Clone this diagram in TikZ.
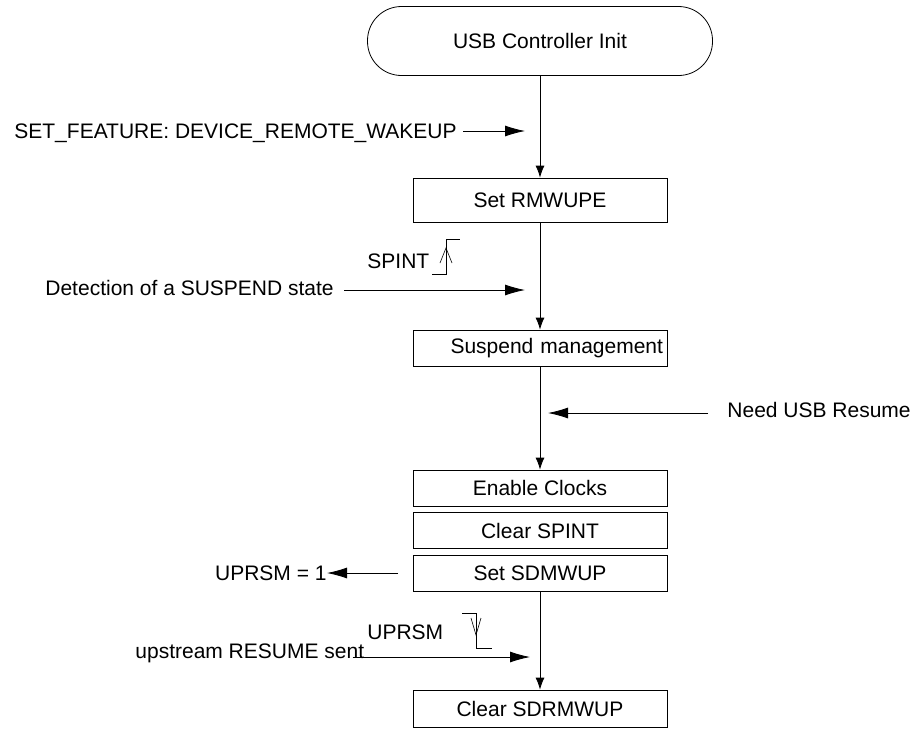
\documentclass[tikz,border=0pt]{standalone}
\usepackage{fontspec}
\setmainfont{Liberation Sans}
\usetikzlibrary{arrows.meta}

\begin{document}
\begin{tikzpicture}[x=1pt, y=-1pt, line width=0.8pt,
    every node/.style={font=\fontsize{21}{25}\selectfont, inner sep=0pt},
    stepbox/.style={draw, minimum width=254pt, minimum height=36pt},
    startbox/.style={draw, rounded corners=34pt, minimum width=345pt, minimum height=69pt},
    sidetext/.style={text height=15pt, text depth=0pt},
    flow/.style={-{Latex[length=12pt, width=9pt]}},
    side/.style={-{Latex[length=20pt, width=11pt]}}]

    \useasboundingbox (0,0) rectangle (917,729);

    % cajas del flujo
    \node[startbox] (init) at (540,41) {USB Controller Init};
    \node[stepbox, minimum height=44pt] (rmwupe) at (540,200) {Set RMWUPE};
    \node[stepbox, text width=246pt, align=right] (susp) at (540,348) {Suspend management};
    \node[stepbox] (clk) at (540,488) {Enable Clocks};
    \node[stepbox] (clrspint) at (540,530.5) {Clear SPINT};
    \node[stepbox] (sdmwup) at (540,573) {Set SDMWUP};
    \node[stepbox, minimum height=37pt] (clrsdr) at (540,708.5) {Clear SDRMWUP};

    \draw[flow] (init) -- (rmwupe);
    \draw[flow] (rmwupe) -- (susp);
    \draw[flow] (susp) -- (clk);
    \draw[flow] (sdmwup) -- (clrsdr);

    % eventos
    \node[sidetext, anchor=west] (feat) at (14,131) {SET\_FEATURE: DEVICE\_REMOTE\_WAKEUP};
    \coordinate (featend) at (525,131);
    \draw[side] ([xshift=6pt]feat.east) -- (featend);

    \node[sidetext, anchor=west] (spint) at (367,261) {SPINT};
    \node[sidetext, anchor=west] (susdet) at (45,288) {Detection of a SUSPEND state};
    \coordinate (susend) at (525,290);
    \draw[side] ([xshift=10pt, yshift=-2pt]susdet.east) -- (susend);

    \node[sidetext, anchor=west] (resume) at (727,410) {Need USB Resume};
    \coordinate (resend) at (548,413);
    \draw[side] ([xshift=-19pt, yshift=-3pt]resume.west) -- (resend);

    \node[sidetext, anchor=east] (uprsmset) at (327,573) {UPRSM = 1};
    \coordinate (sdmout) at (398,573);
    \draw[side] (sdmout) -- (uprsmset.east);

    \node[sidetext, anchor=west] (uprsm) at (367,632) {UPRSM};
    \node[anchor=base west] (upres) at (135,658) {upstream RESUME sent};
    \coordinate (upend) at (530,657);
    \draw[side] ([xshift=-12pt, yshift=1pt]upres.base east) -- (upend);

    % flanco de subida
    \draw[line width=0.6pt] (432,274) -- (446,274) -- (446,239) -- (460,239);
    \draw[line width=0.6pt] (440,263) -- (446,248) -- (452,263);

    % flanco de bajada
    \draw[line width=0.6pt] (462,613) -- (476,613) -- (476,648) -- (492,648);
    \draw[line width=0.6pt] (471,618) -- (476,635) -- (481,618);

\end{tikzpicture}
\end{document}
